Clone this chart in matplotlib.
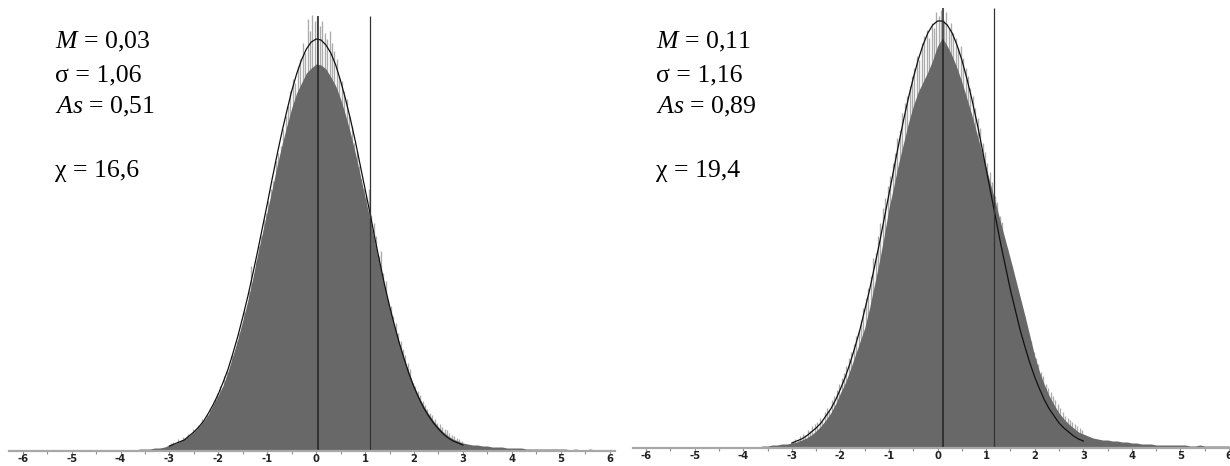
import numpy as np
import matplotlib
matplotlib.use("Agg")
import matplotlib.pyplot as plt

plt.rcParams['mathtext.fontset'] = 'custom'
plt.rcParams['mathtext.rm'] = 'Liberation Serif'
plt.rcParams['mathtext.it'] = 'Liberation Serif:italic'

# ---------------- data (heights in screen-pixel units) ----------------
body_x = np.round(np.arange(-4.0, 6.0001, 0.1), 2)        # 101 points
curve_x = np.round(np.arange(-3.0, 3.0001, 0.1), 2)       # 61 points
spike_x = np.round(np.arange(-2.975, 2.99, 0.05), 3)      # 120 points

left_body = [0, 0, 0, 1, 2, 2, 2, 3, 3, 4,
             6, 7, 9, 12, 15, 19, 24, 30, 37, 47,
             56, 66, 80, 96, 112, 131, 150, 172, 196, 218,
             240, 262, 285, 306, 325, 343, 358, 368, 378, 383,
             387, 386, 382, 374, 365, 352, 336, 318, 298, 276,
             254, 232, 208, 186, 164, 144, 125, 108, 92, 78,
             65, 54, 45, 37, 30, 24, 19, 15, 12, 10,
             8, 7, 6, 6, 5, 5, 4, 4, 4, 3,
             3, 3, 3, 2, 2, 2, 2, 2, 2, 2,
             2, 2, 1, 2, 1, 1, 2, 1, 1, 1, 1]

right_body = [0, 0, 1, 1, 2, 2, 3, 3, 4, 4,
              5, 6, 8, 10, 13, 17, 22, 28, 35, 44,
              55, 65, 78, 92, 106, 120, 140, 163, 186, 212,
              240, 262, 285, 305, 325, 342, 356, 366, 376, 388,
              402, 410, 402, 392, 380, 366, 350, 334, 316, 298,
              280, 262, 244, 225, 207, 189, 170, 151, 132, 112,
              92, 76, 63, 52, 43, 35, 29, 24, 20, 16,
              14, 12, 10, 9, 8, 8, 7, 7, 6, 6,
              5, 5, 4, 4, 4, 3, 3, 3, 3, 3,
              3, 3, 2, 2, 3, 2, 2, 2, 2, 2, 2]

left_spikes = [8, 9, 6, 12, 10, 14, 13, 17, 15, 22,
               21, 26, 24, 32, 29, 36, 42, 40, 52, 58,
               65, 62, 75, 80, 78, 96, 92, 110, 118, 125,
               140, 138, 160, 185, 165, 190, 205, 215, 232, 238,
               250, 262, 270, 290, 298, 305, 322, 335, 345, 360,
               372, 368, 385, 392, 408, 398, 432, 420, 436, 430,
               434, 425, 430, 418, 412, 420, 408, 400, 392, 375,
               370, 360, 352, 335, 325, 308, 300, 285, 272, 262,
               255, 262, 236, 228, 215, 195, 200, 178, 170, 150,
               145, 135, 128, 118, 110, 102, 96, 88, 82, 68,
               65, 60, 56, 50, 46, 42, 38, 36, 32, 28,
               27, 24, 22, 21, 18, 16, 15, 13, 12, 10]

right_spikes = [7, 9, 8, 12, 14, 13, 18, 17, 22, 24,
                26, 30, 28, 36, 40, 38, 48, 52, 58, 64,
                70, 75, 82, 90, 96, 104, 112, 118, 128, 140,
                150, 160, 172, 190, 195, 212, 225, 240, 250, 262,
                272, 285, 295, 310, 318, 335, 345, 352, 362, 372,
                380, 392, 388, 405, 412, 418, 410, 425, 420, 436,
                432, 438, 428, 436, 420, 425, 415, 410, 400, 402,
                390, 380, 372, 360, 352, 340, 330, 320, 305, 296,
                285, 276, 266, 252, 246, 232, 226, 210, 200, 188,
                182, 170, 160, 148, 140, 132, 122, 112, 107, 96,
                90, 84, 76, 72, 64, 60, 56, 52, 48, 44,
                40, 36, 32, 30, 28, 26, 24, 22, 20, 18]

left_curve = [5, 7, 9, 11, 15, 19, 24, 30, 38, 47,
              57, 69, 82, 98, 115, 134, 154, 176, 199, 223,
              247, 272, 296, 319, 340, 360, 377, 391, 402, 409,
              412, 411, 406, 398, 386, 370, 352, 332, 310, 286,
              262, 238, 213, 189, 166, 145, 126, 108, 92, 77,
              64, 53, 43, 35, 28, 22, 17, 13, 10, 8, 6]

right_curve = [5, 7, 9, 12, 16, 20, 25, 32, 39, 48,
               59, 71, 85, 101, 118, 138, 158, 181, 204, 229,
               254, 279, 304, 328, 350, 370, 388, 403, 415, 423,
               427, 427, 423, 415, 403, 388, 370, 350, 328, 304,
               279, 254, 229, 204, 181, 158, 138, 118, 101, 85,
               71, 59, 48, 39, 32, 25, 20, 16, 12, 9, 7]

left_lines = [0.03, 1.10]     # mean, mean + sigma
right_lines = [0.11, 1.17]

left_stats = ["$M$ = 0,03", "σ = 1,06", "$As$ = 0,51", "χ = 16,6"]
right_stats = ["$M$ = 0,11", "σ = 1,16", "$As$ = 0,89", "χ = 19,4"]

tick_values = list(range(-6, 7))
tick_labels = [str(t) for t in tick_values]

# ---------------- figure ----------------
W, H = 1230, 466
fig = plt.figure(figsize=(W / 100, H / 100), dpi=100)

BODY = '#686868'
SPIKE = '#ababab'


def panel(rect_px, xlim, ytop, body, spikes, curve, lines, line_top, stats, text_x):
    x0, base, x1 = rect_px
    ax = fig.add_axes([x0 / W, (H - base) / H, (x1 - x0) / W, base / H])
    ax.set_xlim(*xlim)
    ax.set_ylim(0, ytop)
    ax.vlines(spike_x, 0, spikes, colors=SPIKE, linewidth=0.95, zorder=1)
    ax.fill_between(body_x, 0, body, color=BODY, linewidth=0, zorder=2)
    ax.plot(curve_x, curve, color='#111111', linewidth=0.9, zorder=3)
    ax.vlines(lines, 0, line_top, colors=['#222222', '#333333'],
              linewidth=[1.1, 0.9], zorder=4)
    for s in ('top', 'left', 'right'):
        ax.spines[s].set_visible(False)
    ax.spines['bottom'].set_color('#a8a8a8')
    ax.spines['bottom'].set_linewidth(1.6)
    ax.spines['bottom'].set_zorder(5)
    ax.set_yticks([])
    ax.set_xticks(tick_values)
    ax.set_xticklabels(tick_labels, fontsize=7.2, fontweight='bold',
                       color='#222222', family='DejaVu Sans')
    ax.set_xticks(np.arange(-6, 6.01, 0.5), minor=True)
    ax.tick_params(axis='x', which='both', direction='out', length=2,
                   width=0.8, color='#909090', pad=0.0)
    ax.patch.set_alpha(0)
    baselines = [48, 81, 113, 177]
    for s, yb in zip(stats, baselines):
        fig.text(text_x / W, (H - yb) / H, s, fontsize=18.5,
                 family='Liberation Serif', va='baseline', ha='left',
                 color='#000000')
    return ax


panel((9, 451, 615), (-6.28, 6.11), 451, left_body, left_spikes, left_curve,
      left_lines, 435, left_stats, 55)
panel((633, 448, 1230), (-6.27, 6.02), 448, right_body, right_spikes, right_curve,
      right_lines, 440, right_stats, 656)

fig.savefig('out.png', dpi=100)
